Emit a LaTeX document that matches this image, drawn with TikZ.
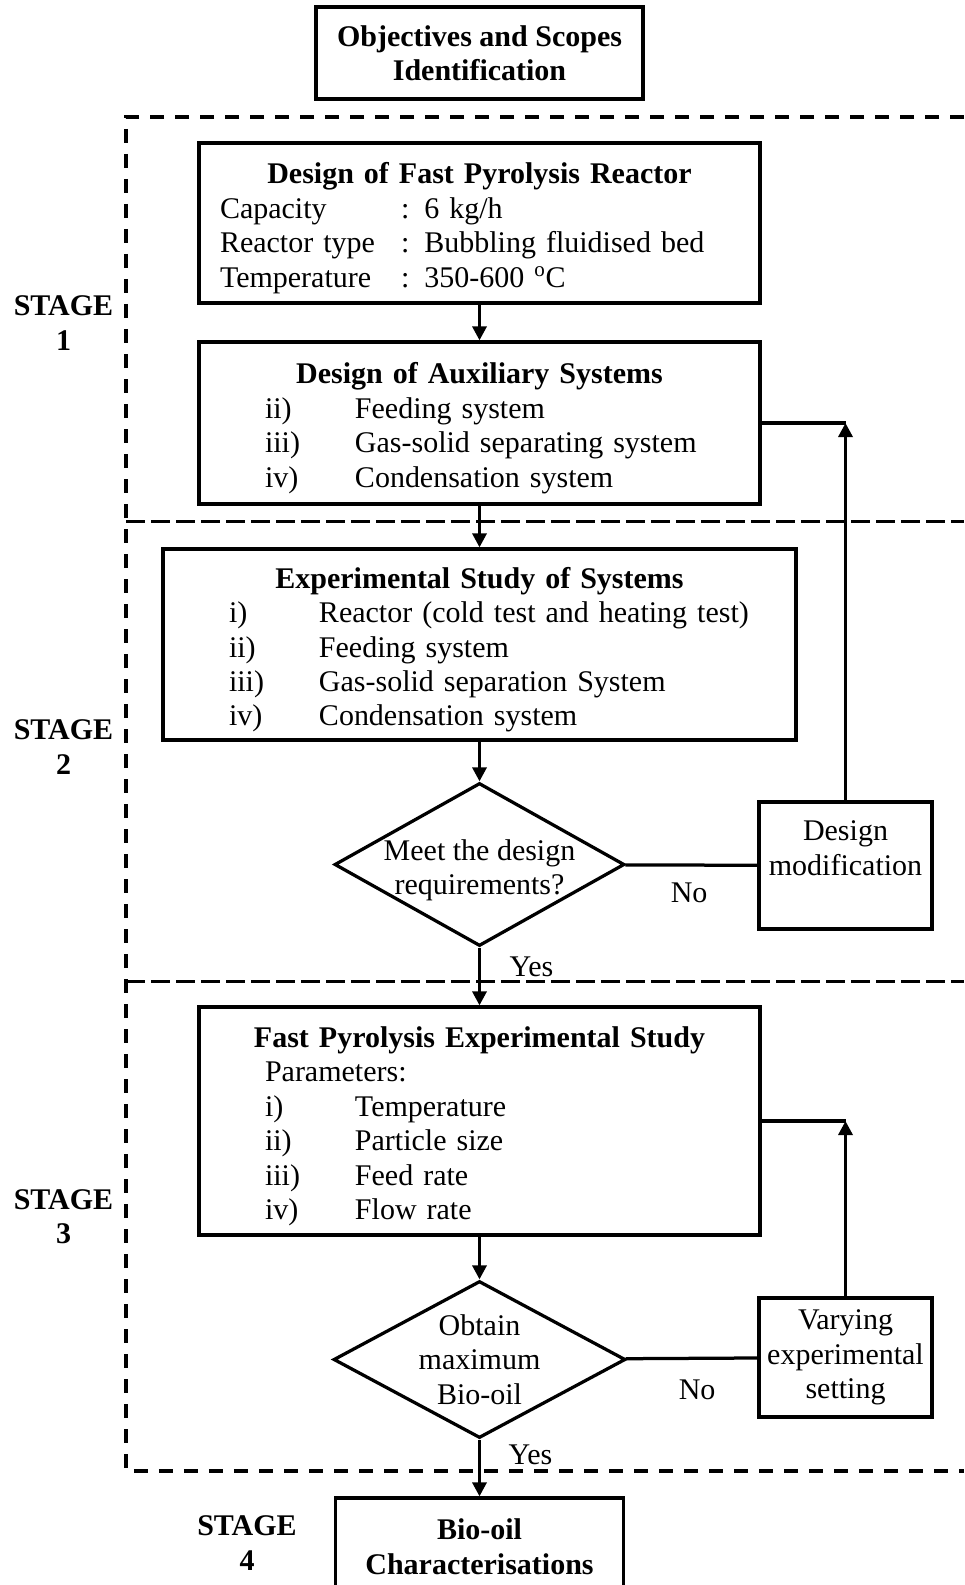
\documentclass[tikz,border=0pt]{standalone}
\usepackage{fontspec}
\setmainfont{Liberation Serif}
\usetikzlibrary{shapes.geometric,arrows.meta,positioning}

\newcommand{\rowitem}[2]{\hspace*{0.9cm}\makebox[1.8cm][l]{#1}#2}
\newcommand{\boxtitle}[1]{\rule{0pt}{0.63cm}\makebox[\linewidth]{\textbf{#1}}}

\tikzset{bb/.style={draw, inner xsep=0.42cm, inner ysep=0.1cm, align=left},
    dec/.style={draw, diamond, inner sep=0pt},
    frame/.style={dash pattern=on 0.28cm off 0.22cm},
    sep/.style={dash pattern=on 0.38cm off 0.12cm},
    >={Triangle[length=0.28cm, width=0.28cm]}}

\begin{document}
\begin{tikzpicture}[line width=0.065cm, font=\fontsize{17.07pt}{19.6pt}\selectfont]
    \useasboundingbox (0,0) rectangle (19.28,-31.70);

    \node[bb, align=center, minimum width=6.5cm, minimum height=1.84cm] (objectives) at (9.59,-1.06) {\textbf{Objectives and Scopes}\\\textbf{Identification}};

    \node[bb, text width=10.38cm, minimum height=3.2cm] (reactor) at ([yshift=-3.4cm] objectives) {\boxtitle{Design of Fast Pyrolysis Reactor}\\
        \makebox[3.62cm][l]{Capacity}: 6 kg/h\\
        \makebox[3.62cm][l]{Reactor type}: Bubbling fluidised bed\\
        \makebox[3.62cm][l]{Temperature}: 350-600 \textsuperscript{o}C};

    \node[bb, text width=10.38cm, minimum height=3.24cm] (aux) at ([yshift=-7.4cm] objectives) {\boxtitle{Design of Auxiliary Systems}\\
        \rowitem{ii)}{Feeding system}\\
        \rowitem{iii)}{Gas-solid separating system}\\
        \rowitem{iv)}{Condensation system}};

    \node[bb, text width=11.82cm, minimum height=3.82cm] (exp) at ([yshift=-11.83cm] objectives) {\boxtitle{Experimental Study of Systems}\\
        \rowitem{i)}{Reactor (cold test and heating test)}\\
        \rowitem{ii)}{Feeding system}\\
        \rowitem{iii)}{Gas-solid separation System}\\
        \rowitem{iv)}{Condensation system}};

    \node[dec, minimum width=5.8cm, minimum height=3.26cm, label={[align=center, yshift=-0.12cm]center:Meet the design\\requirements?}] (meet) at ([yshift=-16.23cm] objectives) {};

    \node[bb, align=center, inner xsep=0.05cm, minimum width=3.46cm, minimum height=2.54cm] (mod) at ([xshift=7.32cm, yshift=-16.25cm] objectives) {Design\\modification\\\mbox{}};

    \node[bb, text width=10.38cm, minimum height=4.56cm] (pyro) at ([yshift=-21.36cm] objectives) {\boxtitle{Fast Pyrolysis Experimental Study}\\
        \hspace*{0.9cm}Parameters:\\
        \rowitem{i)}{Temperature}\\
        \rowitem{ii)}{Particle size}\\
        \rowitem{iii)}{Feed rate}\\
        \rowitem{iv)}{Flow rate}};

    \node[dec, minimum width=5.84cm, minimum height=3.14cm, label={[align=center]center:Obtain\\maximum\\Bio-oil}] (obtain) at ([yshift=-26.13cm] objectives) {};

    \node[bb, align=center, inner xsep=0.05cm, minimum width=3.46cm, minimum height=2.38cm] (vary) at ([xshift=7.32cm, yshift=-26.09cm] objectives) {Varying\\experimental\\setting};

    \node[bb, align=center, minimum width=5.76cm, minimum height=1.94cm] (biooil) at ([yshift=-29.87cm] objectives) {\textbf{Bio-oil}\\\textbf{Characterisations}};

    % stage labels
    \node[align=center] (stage1) at (1.27,-6.46) {\textbf{STAGE}\\\textbf{1}};
    \node[align=center] (stage2) at (1.27,-14.94) {\textbf{STAGE}\\\textbf{2}};
    \node[align=center] (stage3) at (1.27,-24.33) {\textbf{STAGE}\\\textbf{3}};
    \node[align=center] (stage4) at (4.94,-30.86) {\textbf{STAGE}\\\textbf{4}};

    \node (no1) at ([xshift=1.26cm, yshift=-0.57cm] meet.east) {No};
    \node (yes1) at ([xshift=1.04cm, yshift=-0.38cm] meet.south) {Yes};
    \node (no2) at ([xshift=1.4cm, yshift=-0.61cm] obtain.east) {No};
    \node (yes2) at ([xshift=1.02cm, yshift=-0.3cm] obtain.south) {Yes};

    % dashed frames
    \draw[frame] (19.28,-2.34) -| (2.52,-29.42) -- (19.28,-29.42);
    \draw[sep] (2.52,-10.43) -- (19.28,-10.43);
    \draw[sep] (2.52,-19.63) -- (19.28,-19.63);

    \draw[->] (reactor) -- (aux);
    \draw[->] (aux) -- (exp);
    \draw[->] (exp) -- (meet);
    \draw (meet) -- (mod);
    \draw (aux.east) -- (aux.east -| mod.north);
    \draw[->] (mod.north) -- (aux.east -| mod.north);
    \draw[->] (meet) -- (pyro);
    \draw[->] (pyro) -- (obtain);
    \draw (obtain) -- (vary);
    \draw (pyro.east) -- (pyro.east -| vary.north);
    \draw[->] (vary.north) -- (pyro.east -| vary.north);
    \draw[->] (obtain) -- (biooil);

\end{tikzpicture}
\end{document}
